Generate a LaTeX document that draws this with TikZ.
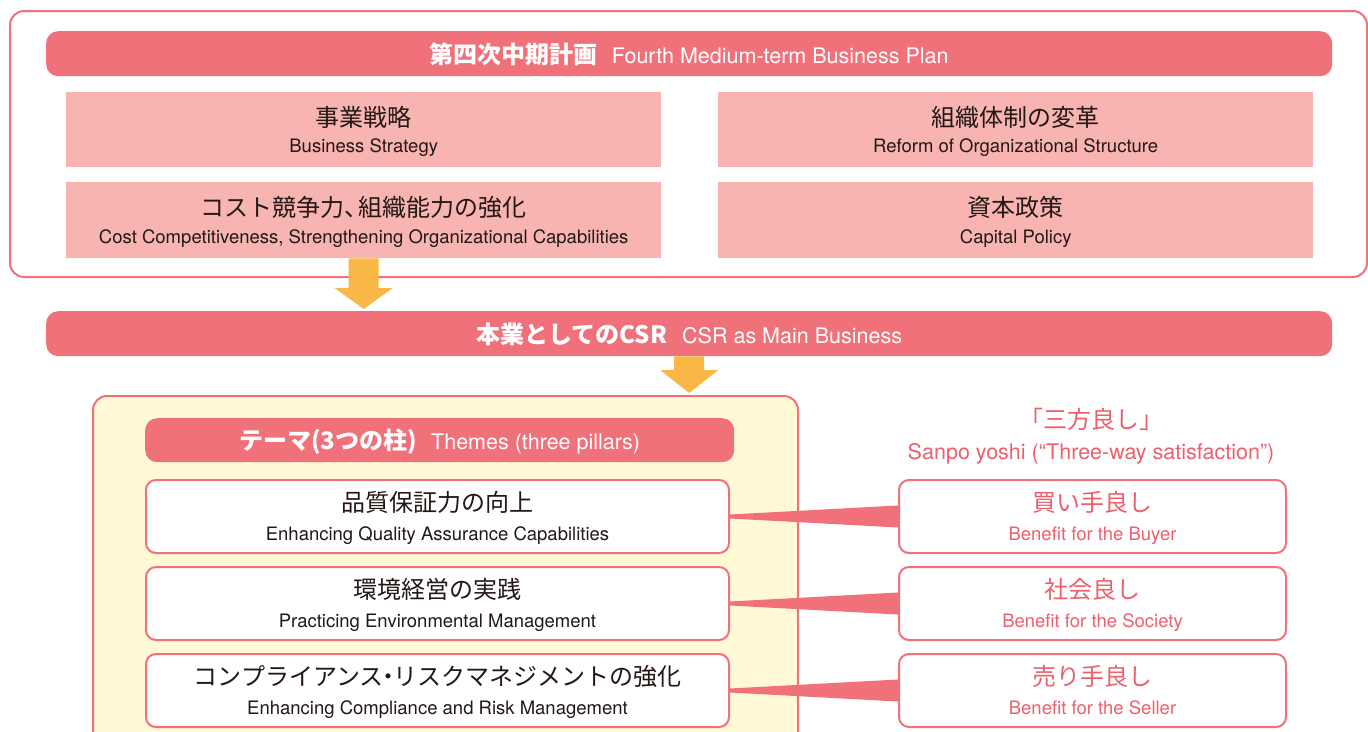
\documentclass[tikz,border=0pt]{standalone}
\usepackage{fontspec}
\setmainfont{TeX Gyre Heros}
\newfontfamily\cjk{Noto Sans CJK JP}
\usetikzlibrary{calc}
\definecolor{pk}{HTML}{F0717A}
\definecolor{pklt}{HTML}{F7B4B0}
\definecolor{orng}{HTML}{F9B845}
\definecolor{yel}{HTML}{FFF9D6}
\definecolor{ink}{HTML}{231815}
\definecolor{pktxt}{HTML}{EE5F6C}
\newcommand\duo[6][ink]{%
  \node[jp,text=#1] at ([yshift=-#5pt]#2.north) {#3};
  \node[en,text=#1] at ([yshift=#6pt]#2.south) {#4};}
\begin{document}
\begin{tikzpicture}[x=1pt,y=-1pt,
  bar/.style={fill=pk, rounded corners=12pt, inner sep=0pt, anchor=north west},
  pbox/.style={fill=pklt, inner sep=0pt, anchor=north west},
  wbox/.style={fill=white, draw=pk, line width=2pt, rounded corners=10pt, inner sep=0pt, anchor=north west},
  frame/.style={draw=pk, line width=2pt, rounded corners=14pt, inner sep=0pt, anchor=north west},
  jp/.style={inner sep=0pt, text=ink, font=\cjk\fontsize{24}{24}\selectfont},
  en/.style={inner sep=0pt, anchor=base, text=ink, font=\fontsize{18.5}{20}\selectfont},
  bartext/.style={inner sep=0pt, anchor=base, text=white, font=\fontsize{21.5}{24}\selectfont},
  wedge/.style={fill=pk},
  bigarrow/.style={fill=orng},
]
\clip (0,0) rectangle (1368,731);
\fill[white] (0,0) rectangle (1368,731);

% top plan frame
\node[frame, minimum width=1357pt, minimum height=266pt] (plan) at (9,10) {};
\node[bar, minimum width=1286pt, minimum height=45pt] (hdr) at (46,31) {};
\node[bartext] at ([yshift=13pt]hdr.south) {{\cjk\bfseries\fontsize{24}{24}\selectfont 第四次中期計画}\hspace{14pt}Fourth Medium-term Business Plan};

\node[pbox, minimum width=595pt, minimum height=75pt] (bs) at (66,92) {};
\node[pbox, minimum width=595pt, minimum height=75pt] (ro) at (718,92) {};
\node[pbox, minimum width=595pt, minimum height=76pt] (cc) at (66,182) {};
\node[pbox, minimum width=595pt, minimum height=76pt] (cp) at (718,182) {};
\duo{bs}{事業戦略}{Business Strategy}{25.5}{15}
\duo{ro}{組織体制の変革}{Reform of Organizational Structure}{25.5}{15}
\duo{cc}{コスト競争力、\hspace{-0.4em}組織能力の強化}{Cost Competitiveness, Strengthening Organizational Capabilities}{25.5}{15}
\duo{cp}{資本政策}{Capital Policy}{25.5}{15}

% CSR bar
\node[bar, minimum width=1286pt, minimum height=45pt] (csr) at (46,311) {};
\node[bartext] at ([yshift=13pt]csr.south) {{\cjk\bfseries\fontsize{24}{24}\selectfont 本業としてのCSR}\hspace{15pt}CSR as Main Business};

% arrow 1
\coordinate (a1) at ([yshift=2pt]cc.south |- csr.north);
\fill[bigarrow] ([xshift=-15pt]cc.south) -- ([xshift=15pt]cc.south) -- ([shift={(15,-21)}]a1) -- ([shift={(29,-21)}]a1) -- (a1) -- ([shift={(-29,-21)}]a1) -- ([shift={(-15,-21)}]a1) -- cycle;

% themes frame
\node[frame, fill=yel, minimum width=705pt, minimum height=360pt] (yb) at (92,395) {};
% arrow 2
\coordinate (a2) at ([yshift=2pt]csr.south |- yb.north);
\fill[bigarrow] ([xshift=-15pt]csr.south) -- ([xshift=15pt]csr.south) -- ([shift={(15,-23)}]a2) -- ([shift={(29,-23)}]a2) -- (a2) -- ([shift={(-29,-23)}]a2) -- ([shift={(-15,-23)}]a2) -- cycle;

\node[bar, minimum width=589pt, minimum height=44pt] (th) at (145,418) {};
\node[bartext] at ([yshift=13pt]th.south) {{\cjk\bfseries\fontsize{24}{24}\selectfont テーマ(3つの柱)}\hspace{14pt}Themes (three pillars)};

\node[wbox, minimum width=583pt, minimum height=73pt] (t1) at (145,479) {};
\node[wbox, minimum width=583pt, minimum height=73pt] (t2) at (145,566) {};
\node[wbox, minimum width=583pt, minimum height=73pt] (t3) at (145,653) {};
\duo{t1}{品質保証力の向上}{Enhancing Quality Assurance Capabilities}{23.5}{14}
\duo{t2}{環境経営の実践}{Practicing Environmental Management}{23.5}{14}
\duo{t3}{コンプライアンス\hspace{-0.3em}・\hspace{-0.3em}リスクマネジメントの強化}{Enhancing Compliance and Risk Management}{23.5}{14}

% sanpo yoshi
\node[jp, text=pktxt] (sy) at (1091,419.5) {「三方良し」};
\node[en, text=pktxt, font=\fontsize{21.5}{24}\selectfont] (syen) at (1091,459) {Sanpo yoshi (“Three-way satisfaction”)};

\node[wbox, minimum width=387pt, minimum height=73pt] (s1) at (898,479) {};
\node[wbox, minimum width=387pt, minimum height=73pt] (s2) at (898,566) {};
\node[wbox, minimum width=387pt, minimum height=73pt] (s3) at (898,653) {};
\duo[pktxt]{s1}{買い手良し}{Benefit for the Buyer}{23}{14}
\duo[pktxt]{s2}{社会良し}{Benefit for the Society}{23}{14}
\duo[pktxt]{s3}{売り手良し}{Benefit for the Seller}{23}{14}

% wedges
\foreach \i in {1,2,3}{
  \fill[wedge] ([yshift=2pt]t\i.east) -- ([yshift=11pt]s\i.west) -- ([yshift=-11pt]s\i.west) -- ([yshift=-2pt]t\i.east) -- cycle;
}
\end{tikzpicture}
\end{document}
